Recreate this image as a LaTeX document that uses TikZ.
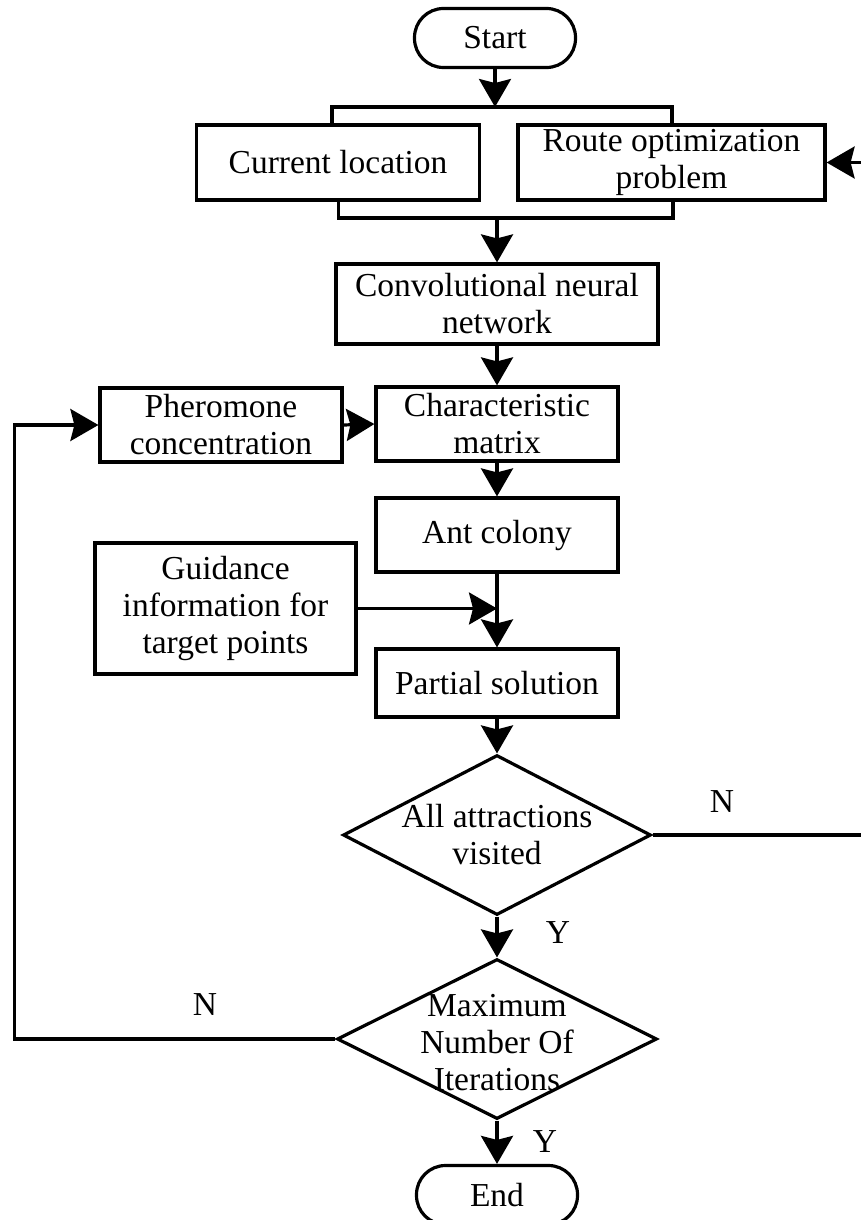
\documentclass[tikz,border=0pt]{standalone}
\usepackage{fontspec}
\setmainfont{Liberation Serif}
\usetikzlibrary{arrows.meta,shapes.geometric}
\begin{document}
\begin{tikzpicture}[x=1pt,y=-1pt,
  every node/.style={font=\fontsize{33.5}{37}\selectfont},
  ln/.style={line width=3.2pt},
  box/.style={draw,line width=3.2pt,inner sep=0pt,align=center,rectangle},
  term/.style={draw,line width=3.2pt,inner sep=0pt,rounded corners=29pt,minimum width=161pt,minimum height=59pt},
  dia/.style={draw,line width=3.2pt,shape=diamond,inner sep=0pt},
  lbl/.style={inner sep=0pt},
  arr/.style={line width=3.2pt,-{Stealth[length=28pt,width=32pt,inset=4pt]}}]
\useasboundingbox (0,0) rectangle (861,1220);
% nodes
\node[term] (st) at (495,38) {Start};
\node[box,minimum width=283pt,minimum height=75pt] (cl) at (338,162.5) {Current location};
\node[box,minimum width=307pt,minimum height=75pt] (ro) at (671.5,162.5) {Route optimization\\problem};
\node[box,minimum width=322pt,minimum height=80pt] (cnn) at (497,304) {Convolutional neural\\network};
\node[box,minimum width=242pt,minimum height=74pt] (ph) at (221,425) {Pheromone\\concentration};
\node[box,minimum width=242pt,minimum height=74pt] (cm) at (497,424) {Characteristic\\matrix};
\node[box,minimum width=242pt,minimum height=74pt] (ac) at (497,535) {Ant colony};
\node[box,minimum width=261pt,minimum height=131pt] (gd) at (225.5,608.5) {Guidance\\information for\\target points};
\node[box,minimum width=242pt,minimum height=68pt] (ps) at (497,683) {Partial solution};
\node[dia,minimum width=308pt,minimum height=160pt] (d1) at (497,835) {};
\node[lbl,align=center] (d1t) at (d1.center) {All attractions\\visited};
\node[dia,minimum width=320pt,minimum height=160pt] (d2) at (497,1039) {};
\node[lbl,align=center] (d2t) at (497,1043) {Maximum\\Number Of\\Iterations};
\node[term] (en) at (497,1195) {End};
% labels
\node[lbl] (n1) at (722,802) {N};
\node[lbl] (y1) at (558,933) {Y};
\node[lbl] (n2) at (205,1005) {N};
\node[lbl] (y2) at (545,1142) {Y};
% coordinates
\coordinate (tb) at (495,107);
\coordinate (tl) at (332,107);
\coordinate (tr) at (672,107);
\coordinate (bl) at (338.6,218);
\coordinate (br) at (673,218);
\coordinate (bm) at (497,218);
\coordinate (re) at (861,162.5);
\coordinate (ne) at (861,835);
\coordinate (jn) at (497,608.5);
\coordinate (lc) at (14.5,425);
% connectors
\draw[arr] (st.south) -- (tb);
\draw[ln] (tl |- cl.north) -- (tl) -- (tr) -- (tr |- ro.north);
\draw[ln] (bl |- cl.south) -- (bl) -- (br) -- (br |- ro.south);
\draw[arr] (bm) -- (cnn.north);
\draw[arr] (re) -- (ro.east);
\draw[arr] (cnn.south) -- (cm.north);
\draw[arr] (ph.east) -- (cm.west);
\draw[arr] (cm.south) -- (ac.north);
\draw[arr] (ac.south) -- (ps.north);
\draw[arr] (gd.east) -- (jn);
\draw[arr] (ps.south) -- (d1.north);
\draw[ln] (d1.east) -- (ne);
\draw[arr] (d1.south) -- (d2.north);
\draw[arr] (d2.west) -| (lc) -- (ph.west);
\draw[arr] (d2.south) -- (en.north);
\end{tikzpicture}
\end{document}
